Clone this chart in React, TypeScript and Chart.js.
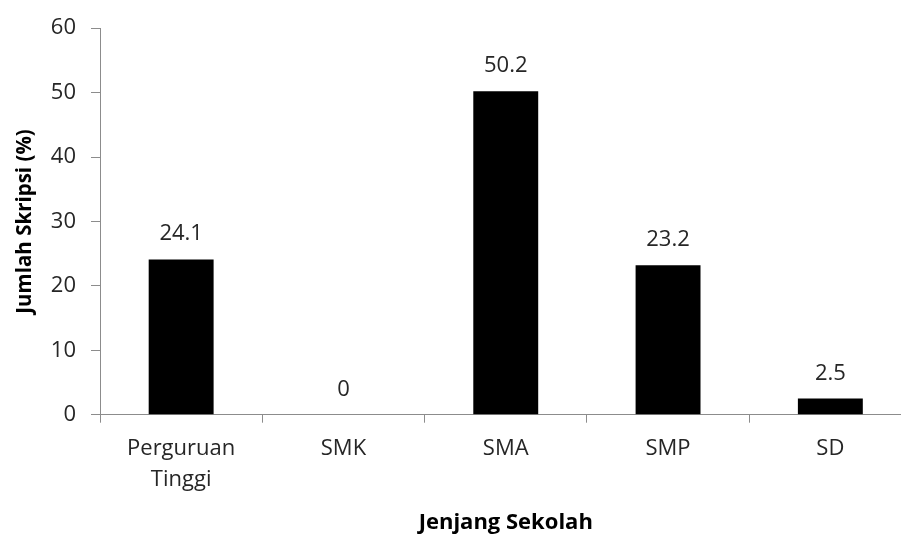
import React, { useEffect, useRef } from "react";
import { Chart, registerables } from "chart.js";

Chart.register(...registerables);

const categories: string[][] = [["Perguruan", "Tinggi"], ["SMK"], ["SMA"], ["SMP"], ["SD"]];
const values: number[] = [24.1, 0, 50.2, 23.2, 2.5];
const valueLabels: string[] = ["24.1", "0", "50.2", "23.2", "2.5"];
const yMin = 0;
const yMax = 60;
const yStep = 10;
const xTitle = "Jenjang Sekolah";
const yTitle = "Jumlah Skripsi (%)";

const FONT = "'Open Sans', 'Noto Sans', sans-serif";
const TEXT = "#262626";
const AXIS = "#8c8c8c";

const valueLabelPlugin = {
  id: "valueLabels",
  afterDatasetsDraw(chart: any) {
    const { ctx } = chart;
    const meta = chart.getDatasetMeta(0);
    ctx.save();
    ctx.font = `22px ${FONT}`;
    ctx.fillStyle = TEXT;
    ctx.textAlign = "center";
    ctx.textBaseline = "alphabetic";
    meta.data.forEach((bar: any, i: number) => {
      ctx.fillText(valueLabels[i], bar.x, bar.y - 19);
    });
    ctx.restore();
  },
};

export default function App() {
  const ref = useRef<HTMLCanvasElement | null>(null);
  useEffect(() => {
    if (!ref.current) return;
    const chart = new Chart(ref.current, {
      type: "bar",
      data: {
        labels: categories,
        datasets: [
          {
            data: values,
            backgroundColor: "#000000",
            borderWidth: 0,
            categoryPercentage: 1,
            barPercentage: 0.4,
          },
        ],
      },
      options: {
        animation: false,
        responsive: false,
        devicePixelRatio: 1,
        layout: { padding: { top: 24.7, right: 18.5, left: 0, bottom: 0 } },
        plugins: { legend: { display: false }, tooltip: { enabled: false } },
        scales: {
          x: {
            grid: { drawOnChartArea: false, drawTicks: true, tickLength: 8, color: AXIS, offset: true },
            border: { color: AXIS, width: 1 },
            ticks: { color: TEXT, font: { family: FONT, size: 22, lineHeight: 1.41 }, padding: 11, maxRotation: 0, autoSkip: false },
            title: { display: true, text: xTitle, color: "#000", font: { family: FONT, size: 22, weight: "bold", lineHeight: 1.0 }, padding: { top: 0, bottom: 1 } },
            afterFit: (s: any) => { s.height = 120.3; },
          },
          y: {
            min: yMin,
            max: yMax,
            grid: { drawOnChartArea: false, drawTicks: true, tickLength: 9, color: AXIS },
            border: { color: AXIS, width: 1 },
            ticks: { stepSize: yStep, color: TEXT, font: { family: FONT, size: 22 }, padding: 15 },
            title: { display: true, text: yTitle, color: "#000", font: { family: FONT, size: 20.5, weight: "bold", lineHeight: 1.0 }, padding: { top: 15, bottom: 0 } },
            afterFit: (s: any) => { s.width = 100; },
          },
        },
      },
      plugins: [valueLabelPlugin],
    });
    return () => chart.destroy();
  }, []);
  return (
    <div style={{ position: "fixed", left: 0, top: 0, width: 901, height: 535, overflow: "hidden", background: "#fff" }}>
      <canvas ref={ref} width={930} height={535} style={{ width: 930, height: 535, display: "block" }} />
    </div>
  );
}
